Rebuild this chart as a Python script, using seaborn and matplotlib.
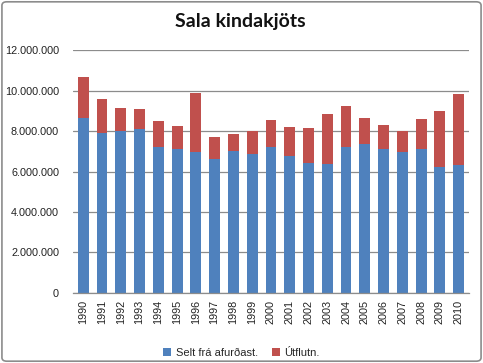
import matplotlib
matplotlib.use("Agg")
import matplotlib.pyplot as plt
from matplotlib.patches import Patch, FancyBboxPatch
import seaborn as sns
import pandas as pd

years = [str(y) for y in range(1990, 2011)]
selt = [8.65, 7.92, 7.98, 8.10, 7.21, 7.11, 6.94, 6.60, 7.03, 6.89, 7.21,
        6.78, 6.42, 6.37, 7.21, 7.34, 7.09, 6.94, 7.09, 6.23, 6.30]
total = [10.68, 9.60, 9.12, 9.07, 8.50, 8.26, 9.87, 7.69, 7.87, 7.98, 8.55,
         8.20, 8.15, 8.83, 9.26, 8.65, 8.28, 8.00, 8.60, 8.99, 9.84]
selt = [v * 1e6 for v in selt]
total = [v * 1e6 for v in total]
utflutn = [t - s for t, s in zip(total, selt)]

series_names = ["Selt frá afurðast.", "Útflutn."]
title = "Sala kindakjöts"
yticks = [0, 2e6, 4e6, 6e6, 8e6, 10e6, 12e6]

df = pd.DataFrame({"year": years, "selt": selt, "total": total, "utflutn": utflutn})

blue = "#4F81BD"
red = "#C0504D"

sns.set_theme(style="white")
plt.rcParams['font.family'] = ['Liberation Sans', 'DejaVu Sans']

fig = plt.figure(figsize=(4.83, 3.63), dpi=100)
ax = fig.add_axes([0.151, 0.193, 0.820, 0.669])

sns.barplot(data=df, x="year", y="total", color=red, width=0.58, ax=ax,
            saturation=1, edgecolor="none")
sns.barplot(data=df, x="year", y="selt", color=blue, width=0.58, ax=ax,
            saturation=1, edgecolor="none")

ax.set_ylim(0, 12e6)
ax.set_yticks(yticks)
ax.set_yticklabels(["0" if v == 0 else f"{int(v):,}".replace(",", ".") for v in yticks],
                   fontsize=7.8, color="#222222")
ax.set_xlim(-0.55, len(years) - 0.45)
ax.tick_params(axis="x", labelrotation=90, labelsize=7.8, length=0, pad=5, colors="#222222")
ax.tick_params(axis="y", length=0, pad=10)
ax.set_xlabel("")
ax.set_ylabel("")
ax.yaxis.grid(True, color="#8C8C8C", linewidth=0.9)
ax.set_axisbelow(True)
for s in ["left", "right", "top"]:
    ax.spines[s].set_visible(False)
ax.spines["bottom"].set_color("#8C8C8C")
ax.spines["bottom"].set_linewidth(0.9)

fig.text(0.497, 0.94, title, ha="center", va="center", fontsize=14,
         fontweight="bold", family=["Lato", "DejaVu Sans"], color="#111111")

handles = [Patch(facecolor=blue, edgecolor="none"), Patch(facecolor=red, edgecolor="none")]
fig.legend(handles, series_names, loc="center", bbox_to_anchor=(0.50, 0.028),
           ncol=2, frameon=False, fontsize=8, handlelength=0.7, handleheight=0.7,
           handletextpad=0.4, columnspacing=1.3)

border = FancyBboxPatch((0.004, 0.005), 0.992, 0.99, boxstyle="round,pad=0,rounding_size=0.01",
                        transform=fig.transFigure, fill=False, edgecolor="#8C8C8C", linewidth=1.2)
fig.patches.append(border)

fig.savefig("out.png", dpi=100)
